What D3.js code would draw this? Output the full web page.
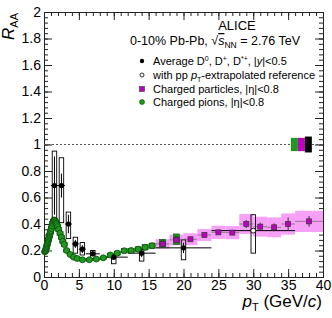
<!DOCTYPE html>
<html lang="en">
<head>
  <meta charset="UTF-8">
  <title>ALICE RAA - D mesons, charged particles, pions</title>
  <script src="https://d3js.org/d3.v7.min.js"></script>
  <style>
    body { margin: 0; background: #fff; }
    svg { font-family: "Liberation Sans", Arial, sans-serif; }
    .axis path, .axis line { stroke: #222; }
    .axis text { font-size: 14px; fill: #000; }
  </style>
</head>
<body>
  <svg width="332" height="318"></svg>

  <script>
    // D mesons (average D0, D+, D*+)
    const dPt = [1.5, 2.5, 3.5, 4.5, 5.5, 7, 10, 14, 20];
    const dPtLo = [1, 2, 3, 4, 5, 6, 8, 12, 16];
    const dPtHi = [2, 3, 4, 5, 6, 8, 12, 16, 24];
    const dR = [0.69, 0.69, 0.40, 0.25, 0.21, 0.175, 0.15, 0.18, 0.22];
    const dStat = [0.22, 0.09, 0.07, 0.03, 0.03, 0.02, 0.02, 0.03, 0.04];
    const dSysLo = [0.45, 0.41, 0.29, 0.18, 0.166, 0.14, 0.10, 0.12, 0.13];
    const dSysHi = [0.95, 0.90, 0.49, 0.30, 0.26, 0.20, 0.166, 0.21, 0.28];

    // with pp pT-extrapolated reference
    const ePt = [30];
    const ePtLo = [24];
    const ePtHi = [36];
    const eR = [0.35];
    const eSysLo = [0.18];
    const eSysHi = [0.47];

    // charged particles |eta|<0.8
    const cPt = [17, 19, 21, 23, 25, 27, 29, 31, 33, 35, 38];
    const cPtLo = [16, 18, 20, 22, 24, 26, 28, 30, 32, 34, 36];
    const cPtHi = [18, 20, 22, 24, 26, 28, 30, 32, 34, 36, 40];
    const cR = [0.25, 0.28, 0.285, 0.317, 0.337, 0.335, 0.40, 0.38, 0.375, 0.40, 0.42];
    const cStat = [0.01, 0.015, 0.015, 0.015, 0.02, 0.02, 0.03, 0.03, 0.03, 0.05, 0.04];
    const cSys = [0.035, 0.04, 0.045, 0.045, 0.05, 0.05, 0.075, 0.075, 0.075, 0.08, 0.08];

    // charged pions |eta|<0.8
    const piPt = [0.125, 0.175, 0.225, 0.275, 0.325, 0.375, 0.425, 0.475, 0.525, 0.575,
                  0.625, 0.675, 0.725, 0.775, 0.825, 0.875, 0.925, 0.975, 1.05, 1.15,
                  1.25, 1.35, 1.45, 1.55, 1.65, 1.75, 1.85, 1.95, 2.1, 2.3,
                  2.5, 2.7, 2.9, 3.25, 3.75, 4.25, 4.75, 5.5, 6.5, 7.5,
                  8.5, 9.5, 10.5, 11.5, 12.5, 13.5, 14.5, 15.5, 17, 19];
    const piR = [0.19, 0.195, 0.20, 0.21, 0.22, 0.23, 0.24, 0.25, 0.26, 0.27,
                 0.28, 0.29, 0.30, 0.31, 0.32, 0.33, 0.34, 0.35, 0.365, 0.385,
                 0.405, 0.42, 0.43, 0.425, 0.415, 0.405, 0.395, 0.38, 0.36, 0.33,
                 0.30, 0.27, 0.245, 0.20, 0.17, 0.15, 0.14, 0.13, 0.13, 0.135,
                 0.145, 0.166, 0.18, 0.198, 0.20, 0.21, 0.224, 0.236, 0.254, 0.285];
    const piSys = [0.01, 0.01, 0.01, 0.01, 0.01, 0.01, 0.01, 0.01, 0.01, 0.01,
                   0.01, 0.01, 0.01, 0.01, 0.01, 0.01, 0.01, 0.01, 0.015, 0.015,
                   0.015, 0.015, 0.015, 0.015, 0.015, 0.015, 0.015, 0.015, 0.015, 0.015,
                   0.015, 0.015, 0.015, 0.012, 0.01, 0.01, 0.01, 0.01, 0.01, 0.01,
                   0.012, 0.014, 0.015, 0.016, 0.017, 0.018, 0.02, 0.02, 0.03, 0.04];

    // normalisation uncertainties at RAA = 1
    const normNames = ["pions", "charged", "D"];
    const normLo = [0.95, 0.95, 0.94];
    const normHi = [1.05, 1.05, 1.06];

    const legendLabels = [
      "Average D\u2070, D\u207a, D\u002a\u207a, |y|<0.5",
      "with pp pT-extrapolated reference",
      "Charged particles, |\u03b7|<0.8",
      "Charged pions, |\u03b7|<0.8"
    ];

    const svg = d3.select("svg"),
          margin = {top: 12, right: 9, bottom: 41, left: 44},
          width = +svg.attr("width") - margin.left - margin.right,
          height = +svg.attr("height") - margin.top - margin.bottom;

    const g = svg.append("g")
                 .attr("transform", `translate(${margin.left},${margin.top})`);

    const x = d3.scaleLinear().domain([0, 40]).range([0, width]);
    const y = d3.scaleLinear().domain([0, 2]).range([height, 0]);

    const green = "#1f9a1f", greenDark = "#0b4d0b";
    const magenta = "#c000c0", pink = "#f7a0f7";

    // axes with ticks pointing inside (major + minor, mirrored)
    const xMajor = d3.range(0, 41, 5), xMinor = d3.range(0, 41, 1);
    const yMajor = d3.range(0, 11).map(i => i * 0.2), yMinor = d3.range(0, 51).map(i => i * 0.04);

    g.append("g").attr("class", "axis").attr("transform", `translate(0,${height})`)
      .call(d3.axisBottom(x).tickValues(xMinor).tickSize(-4).tickFormat(""));
    g.append("g").attr("class", "axis").attr("transform", `translate(0,${height})`)
      .call(d3.axisBottom(x).tickValues(xMajor).tickSize(-8).tickPadding(3).tickFormat(d3.format("d")))
      .selectAll("text").attr("font-size", 15);
    g.append("g").attr("class", "axis")
      .call(d3.axisTop(x).tickValues(xMinor).tickSize(-4).tickFormat(""));
    g.append("g").attr("class", "axis")
      .call(d3.axisTop(x).tickValues(xMajor).tickSize(-8).tickFormat(""));

    g.append("g").attr("class", "axis")
      .call(d3.axisLeft(y).tickValues(yMinor).tickSize(-4).tickFormat(""));
    g.append("g").attr("class", "axis")
      .call(d3.axisLeft(y).tickValues(yMajor).tickSize(-8).tickPadding(3).tickFormat(d => +d.toFixed(1)))
      .selectAll("text").attr("font-size", 15);
    g.append("g").attr("class", "axis").attr("transform", `translate(${width},0)`)
      .call(d3.axisRight(y).tickValues(yMinor).tickSize(-4).tickFormat(""));
    g.append("g").attr("class", "axis").attr("transform", `translate(${width},0)`)
      .call(d3.axisRight(y).tickValues(yMajor).tickSize(-8).tickFormat(""));

    // dashed line at 1
    g.append("line")
      .attr("x1", 0).attr("x2", width)
      .attr("y1", y(1)).attr("y2", y(1))
      .attr("stroke", "#555").attr("stroke-dasharray", "2,2");

    // normalisation boxes
    const normX = [35.4, 36.4, 37.4];
    const normW = 1.0;
    const normCol = [green, magenta, "#000"];
    g.selectAll(".norm").data(normNames).enter().append("rect")
      .attr("x", (d, i) => x(normX[i]))
      .attr("width", x(normW) - x(0))
      .attr("y", (d, i) => y(normHi[i]))
      .attr("height", (d, i) => y(normLo[i]) - y(normHi[i]))
      .attr("fill", (d, i) => normCol[i]);

    // charged particles: syst band
    g.selectAll(".cbox").data(cPt).enter().append("rect")
      .attr("x", (d, i) => x(cPtLo[i]))
      .attr("width", (d, i) => x(cPtHi[i]) - x(cPtLo[i]))
      .attr("y", (d, i) => y(cR[i] + cSys[i]))
      .attr("height", (d, i) => y(cR[i] - cSys[i]) - y(cR[i] + cSys[i]))
      .attr("fill", pink);

    // D mesons: horizontal bin lines, syst boxes, stat bars
    const boxHalf = 0.32;
    g.selectAll(".dh").data(dPt).enter().append("line")
      .attr("x1", (d, i) => x(dPtLo[i])).attr("x2", (d, i) => x(dPtHi[i]))
      .attr("y1", (d, i) => y(dR[i])).attr("y2", (d, i) => y(dR[i]))
      .attr("stroke", "#000");
    g.selectAll(".eh").data(ePt).enter().append("line")
      .attr("x1", (d, i) => x(ePtLo[i])).attr("x2", (d, i) => x(ePtHi[i]))
      .attr("y1", (d, i) => y(eR[i])).attr("y2", (d, i) => y(eR[i]))
      .attr("stroke", "#000");

    // pions: syst boxes and markers
    g.selectAll(".pibox").data(piPt).enter().append("rect")
      .attr("x", d => x(d) - 3)
      .attr("width", 6)
      .attr("y", (d, i) => y(piR[i] + piSys[i]))
      .attr("height", (d, i) => y(piR[i] - piSys[i]) - y(piR[i] + piSys[i]))
      .attr("fill", green).attr("stroke", greenDark).attr("stroke-width", 0.6);

    // D syst boxes drawn above pions
    g.selectAll(".dbox").data(dPt).enter().append("rect")
      .attr("x", d => x(d - boxHalf))
      .attr("width", x(2 * boxHalf) - x(0))
      .attr("y", (d, i) => y(dSysHi[i]))
      .attr("height", (d, i) => y(dSysLo[i]) - y(dSysHi[i]))
      .attr("fill", "none").attr("stroke", "#000").attr("stroke-width", 0.9);
    g.selectAll(".ebox").data(ePt).enter().append("rect")
      .attr("x", d => x(d - boxHalf))
      .attr("width", x(2 * boxHalf) - x(0))
      .attr("y", (d, i) => y(eSysHi[i]))
      .attr("height", (d, i) => y(eSysLo[i]) - y(eSysHi[i]))
      .attr("fill", "none").attr("stroke", "#000").attr("stroke-width", 0.9);

    g.selectAll(".pi").data(piPt).enter().append("circle")
      .attr("cx", d => x(d)).attr("cy", (d, i) => y(piR[i]))
      .attr("r", 3)
      .attr("fill", green).attr("stroke", greenDark).attr("stroke-width", 0.8);

    // charged particles: stat + markers
    g.selectAll(".cstat").data(cPt).enter().append("line")
      .attr("x1", d => x(d)).attr("x2", d => x(d))
      .attr("y1", (d, i) => y(cR[i] - cStat[i])).attr("y2", (d, i) => y(cR[i] + cStat[i]))
      .attr("stroke", "#333");
    g.selectAll(".ch").data(cPt).enter().append("line")
      .attr("x1", (d, i) => x(cPtLo[i])).attr("x2", (d, i) => x(cPtHi[i]))
      .attr("y1", (d, i) => y(cR[i])).attr("y2", (d, i) => y(cR[i]))
      .attr("stroke", "#555").attr("stroke-width", 0.6);
    g.selectAll(".c").data(cPt).enter().append("rect")
      .attr("x", d => x(d) - 2.5).attr("y", (d, i) => y(cR[i]) - 2.5)
      .attr("width", 5).attr("height", 5)
      .attr("fill", magenta).attr("stroke", "#333").attr("stroke-width", 0.7);

    // D stat bars and markers
    g.selectAll(".dstat").data(dPt).enter().append("line")
      .attr("x1", d => x(d)).attr("x2", d => x(d))
      .attr("y1", (d, i) => y(dR[i] - dStat[i])).attr("y2", (d, i) => y(dR[i] + dStat[i]))
      .attr("stroke", "#000");
    g.selectAll(".d").data(dPt).enter().append("circle")
      .attr("cx", d => x(d)).attr("cy", (d, i) => y(dR[i]))
      .attr("r", 2.6).attr("fill", "#000");
    g.selectAll(".e").data(ePt).enter().append("circle")
      .attr("cx", d => x(d)).attr("cy", (d, i) => y(eR[i]))
      .attr("r", 2.4).attr("fill", "#fff").attr("stroke", "#000").attr("stroke-width", 0.8);

    // texts
    svg.append("text").attr("x", 237).attr("y", 30).attr("text-anchor", "middle")
       .attr("font-size", 13).text("ALICE");
    const sub = svg.append("text").attr("x", 130).attr("y", 45).attr("font-size", 12.5);
    sub.append("tspan").text("0-10% Pb-Pb, \u221a");
    sub.append("tspan").attr("font-style", "italic").attr("text-decoration", "overline").text("s");
    sub.append("tspan").attr("font-size", 8.5).attr("dy", 3).text("NN");
    sub.append("tspan").attr("dy", -3).text(" = 2.76 TeV");

    const legY = [61, 75, 89, 102];
    const leg = svg.append("g");
    leg.append("circle").attr("cx", 142).attr("cy", legY[0]).attr("r", 2.2).attr("fill", "#000");
    leg.append("circle").attr("cx", 142).attr("cy", legY[1]).attr("r", 2).attr("fill", "#fff")
       .attr("stroke", "#000").attr("stroke-width", 0.8);
    leg.append("rect").attr("x", 139.5).attr("y", legY[2] - 2.5).attr("width", 5).attr("height", 5)
       .attr("fill", magenta).attr("stroke", "#333").attr("stroke-width", 0.6);
    leg.append("circle").attr("cx", 142).attr("cy", legY[3]).attr("r", 2.5).attr("fill", green)
       .attr("stroke", greenDark).attr("stroke-width", 0.6);

    const lt = legY.map(v => leg.append("text").attr("x", 153).attr("y", v + 4).attr("font-size", 11));
    lt[0].append("tspan").text("Average D");
    lt[0].append("tspan").attr("font-size", 7).attr("dy", -4).text("0");
    lt[0].append("tspan").attr("dy", 4).text(", D");
    lt[0].append("tspan").attr("font-size", 7).attr("dy", -4).text("+");
    lt[0].append("tspan").attr("dy", 4).text(", D");
    lt[0].append("tspan").attr("font-size", 7).attr("dy", -4).text("*+");
    lt[0].append("tspan").attr("dy", 4).text(", |");
    lt[0].append("tspan").attr("font-style", "italic").text("y");
    lt[0].append("tspan").text("|<0.5");
    lt[1].append("tspan").text("with pp ");
    lt[1].append("tspan").attr("font-style", "italic").text("p");
    lt[1].append("tspan").attr("font-size", 7).attr("dy", 3).text("T");
    lt[1].append("tspan").attr("dy", -3).text("-extrapolated reference");
    lt[2].text(legendLabels[2]);
    lt[3].text(legendLabels[3]);

    // axis titles
    const xt = svg.append("text").attr("x", 322).attr("y", 307).attr("text-anchor", "end").attr("font-size", 17);
    xt.append("tspan").attr("font-style", "italic").text("p");
    xt.append("tspan").attr("font-size", 11).attr("dy", 4).text("T");
    xt.append("tspan").attr("dy", -4).text(" (GeV/");
    xt.append("tspan").attr("font-style", "italic").text("c");
    xt.append("tspan").text(")");

    const yt = svg.append("text").attr("transform", "translate(14,13) rotate(-90)")
                  .attr("text-anchor", "end").attr("font-size", 17);
    yt.append("tspan").attr("font-style", "italic").text("R");
    yt.append("tspan").attr("font-size", 11).attr("dy", 4).text("AA");
  </script>
</body>
</html>
